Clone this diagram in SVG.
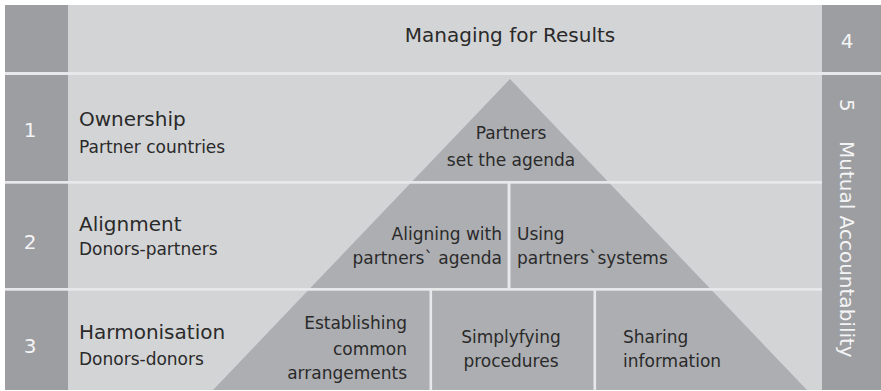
<svg xmlns="http://www.w3.org/2000/svg" width="881" height="391" viewBox="0 0 881 391">
<style>
.bg{fill:#d3d4d6}
.dark{fill:#9c9ea2}
.pyr{fill:#adaeb2}
.sep{fill:#e8e8ea}
text{font-family:"DejaVu Sans","Liberation Sans",sans-serif;fill:#2a2a2a}
.h{font-size:20px}
.s{font-size:17px}
.p{font-size:17px}
.n{font-size:20px;fill:#f4f4f5}
</style>
<rect x="0" y="0" width="881" height="391" fill="#ffffff"/>
<rect class="bg" x="5" y="5" width="876" height="385"/>
<rect class="dark" x="5" y="5" width="63" height="385"/>
<rect class="dark" x="822" y="5" width="59" height="385"/>
<polygon id="pyramid" class="pyr" points="510,79 213,390 807,390"/>
<g id="separators">
<rect class="sep" x="5" y="72" width="876" height="3"/>
<rect class="sep" x="5" y="181" width="817" height="2.7"/>
<rect class="sep" x="5" y="288" width="817" height="2.7"/>
<rect class="sep" x="507.5" y="183" width="3" height="105"/>
<rect class="sep" x="429.5" y="290" width="2.6" height="100"/>
<rect class="sep" x="593.5" y="290" width="2.6" height="100"/>
</g>
<g id="row4">
<text class="h" x="510" y="42" text-anchor="middle">Managing for Results</text>
<text class="n" x="847" y="48" text-anchor="middle" font-size="21">4</text>
</g>
<g id="row1">
<text class="n" x="30" y="137" text-anchor="middle">1</text>
<text class="h" x="79" y="126">Ownership</text>
<text class="s" x="79" y="153">Partner countries</text>
</g>
<g id="row2">
<text class="n" x="30" y="249" text-anchor="middle">2</text>
<text class="h" x="79" y="231">Alignment</text>
<text class="s" x="79" y="255">Donors-partners</text>
</g>
<g id="row3">
<text class="n" x="30" y="353" text-anchor="middle">3</text>
<text class="h" x="79" y="339">Harmonisation</text>
<text class="s" x="79" y="365">Donors-donors</text>
</g>
<g id="col5">
<text class="n" transform="translate(840,99) rotate(90)">5</text>
<text class="n" transform="translate(840,141) rotate(90)">Mutual Accountability</text>
</g>
<g id="pyr-top">
<text class="p" x="511" y="139" text-anchor="middle">Partners</text>
<text class="p" x="511" y="166" text-anchor="middle">set the agenda</text>
</g>
<g id="pyr-align">
<text class="p" x="502" y="240" text-anchor="end">Aligning with</text>
<text class="p" x="502" y="264" text-anchor="end">partners` agenda</text>
</g>
<g id="pyr-systems">
<text class="p" x="517" y="240">Using</text>
<text class="p" x="517" y="264">partners`systems</text>
</g>
<g id="pyr-establish">
<text class="p" x="407" y="329" text-anchor="end">Establishing</text>
<text class="p" x="407" y="355" text-anchor="end">common</text>
<text class="p" x="407" y="379" text-anchor="end">arrangements</text>
</g>
<g id="pyr-simplify">
<text class="p" x="511" y="343" text-anchor="middle">Simplyfying</text>
<text class="p" x="511" y="367" text-anchor="middle">procedures</text>
</g>
<g id="pyr-share">
<text class="p" x="623" y="343">Sharing</text>
<text class="p" x="623" y="367">information</text>
</g>
</svg>
